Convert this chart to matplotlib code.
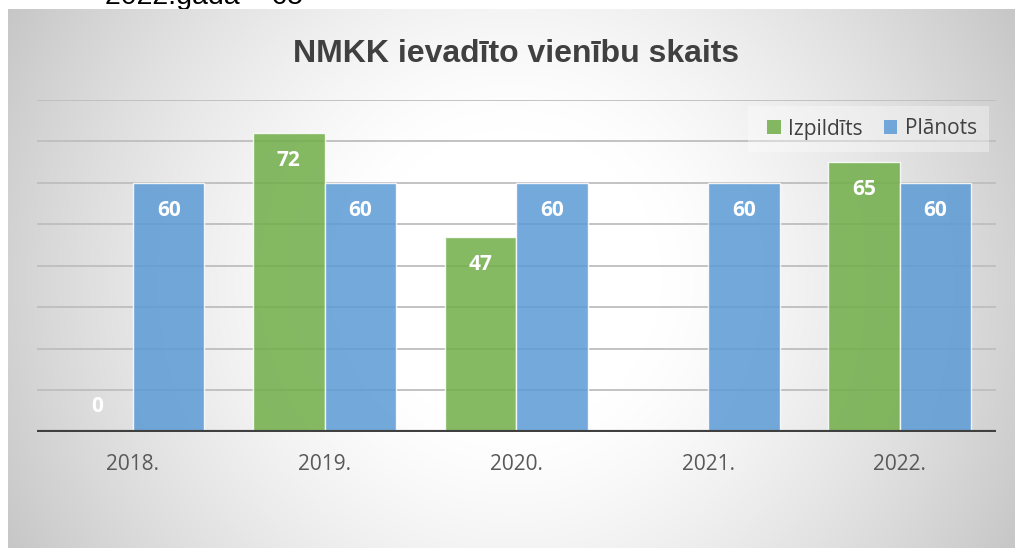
import numpy as np
import matplotlib.pyplot as plt
from matplotlib.patches import Patch, Rectangle

years = ["2018.", "2019.", "2020.", "2021.", "2022."]
izpildits = [0, 72, 47, np.nan, 65]
planots = [60, 60, 60, 60, 60]
series_names = ["Izpildīts", "Plānots"]

green = "#70AD47"
blue = "#5B9BD5"
W, H = 1015, 548

fig = plt.figure(figsize=(W / 100, H / 100), dpi=100)

# page text cut off above the chart
fig.text(105 / W, 1 - 4 / H, "2022.gadā – 65", fontsize=20.5, family="Liberation Sans",
         color="black", va="baseline", ha="left", zorder=-1)

# chart area background with radial gradient
bg = fig.add_axes([8 / W, 0, 1 - 8 / W, (H - 9) / H], zorder=-0.5)
bw, bh = W - 8, H - 9
xx, yy = np.meshgrid(np.arange(bw), np.arange(bh))
r = np.hypot(xx - bw / 2, yy - bh / 2)
t = np.clip((r - 150) / (575 - 150), 0, 1) ** 1.3
shade = (255 - 57 * t) / 255
bg.imshow(np.dstack([shade, shade, shade]), aspect="auto", extent=(0, 1, 0, 1), origin="upper")
bg.set_axis_off()

ax = fig.add_axes([37 / W, 116 / H, (995.7 - 37) / W, (432 - 99.7) / H])
ax.patch.set_alpha(0)

x = np.arange(len(years))
bwid = 0.373
b1 = ax.bar(x - bwid / 2, izpildits, bwid, color=green, alpha=0.85,
            edgecolor=(1, 1, 1, 0.6), linewidth=1, zorder=2)
b2 = ax.bar(x + bwid / 2, planots, bwid, color=blue, alpha=0.85,
            edgecolor=(1, 1, 1, 0.6), linewidth=1, zorder=2)

for bars, vals in [(b1, izpildits), (b2, planots)]:
    for b, v in zip(bars, vals):
        if np.isnan(v):
            continue
        cx = b.get_x() + b.get_width() / 2
        off = -20 if v > 5 else 18
        ax.annotate(f"{v:g}", (cx, v), xytext=(0, off), textcoords="offset points",
                    ha="center", va="center", color="white", fontsize=15,
                    fontweight="bold", family="Open Sans", zorder=4)

ax.set_xlim(-0.5, len(years) - 0.5)
ax.set_ylim(0, 80)
ax.set_yticks(np.arange(10, 81, 10))
ax.yaxis.grid(True, color="#bebebe", linewidth=1.3, zorder=0.5)
ax.set_axisbelow(True)
ax.tick_params(axis="y", left=False, labelleft=False)
ax.set_xticks(x)
ax.set_xticklabels(years, fontsize=15, family="Open Sans", color="#595959")
ax.tick_params(axis="x", length=0, pad=16)
for s in ax.spines.values():
    s.set_visible(False)
ax.axhline(0, color="#404040", linewidth=3, zorder=3)

fig.text(516 / W, 1 - 62 / H, "NMKK ievadīto vienību skaits", fontsize=23,
         fontweight="bold", family="Liberation Sans", color="#404040",
         ha="center", va="baseline")

# legend
fig.patches.append(Rectangle((748 / W, 1 - 152 / H), (989 - 748) / W, 46 / H,
                             transform=fig.transFigure, facecolor="white",
                             alpha=0.35, edgecolor="none", zorder=1))
handles = [Patch(facecolor=green, alpha=0.85), Patch(facecolor=blue, alpha=0.85)]
fig.legend(handles, series_names, loc="center right", bbox_to_anchor=(985 / W, 1 - 129 / H),
           ncol=2, frameon=False, handlelength=0.65, handleheight=0.65,
           handletextpad=0.35, columnspacing=1.0, borderaxespad=0,
           prop={"family": "Open Sans", "size": 15}, labelcolor="#404040")

fig.savefig("out.png", dpi=100)
